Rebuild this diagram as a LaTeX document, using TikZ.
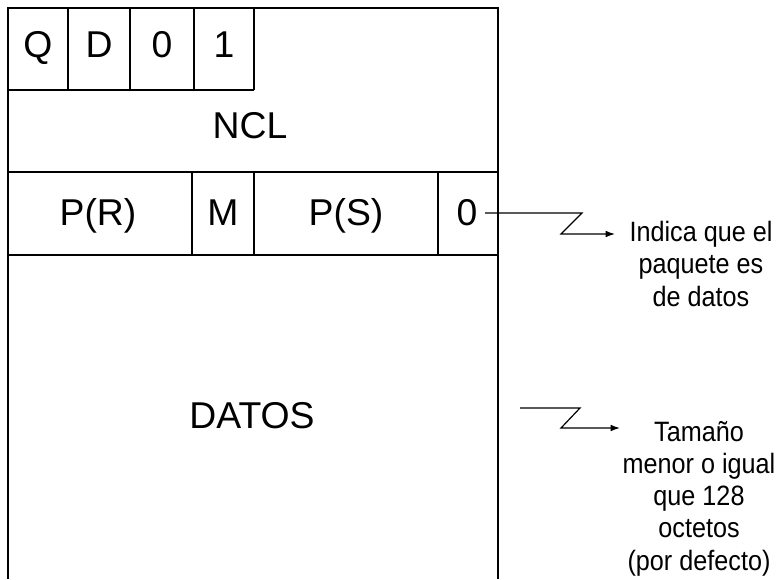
\documentclass[tikz,border=0pt]{standalone}
\usepackage{fontspec}
\setmainfont{Liberation Sans}
\newfontfamily\notafont[FakeStretch=0.9]{Liberation Sans}
\usetikzlibrary{arrows.meta}

\begin{document}
\begin{tikzpicture}[x=0.75pt,y=-0.75pt,line width=0.9pt,
  campo/.style={anchor=base,inner sep=0pt,font=\fontsize{28}{28}\selectfont},
  nota/.style={anchor=base,inner sep=0pt,font=\notafont\fontsize{21}{22}\selectfont},
  flecha/.style={-{Latex[length=7pt,width=5pt]}}]
\useasboundingbox (0,0) rectangle (780,579);
% marco del paquete
\draw (8,579) -- (8,8) -- (498,8) -- (498,579);
\draw (8,90) -- (254,90);
\draw (8,172) -- (498,172);
\draw (8,255) -- (498,255);
\foreach \x in {68,130,194,254} \draw (\x,8) -- (\x,90);
\foreach \x in {192,254,438} \draw (\x,172) -- (\x,255);
% campos
\node[campo] (q) at (38,57) {Q};
\node[campo] (d) at (99,57) {D};
\node[campo] (cero) at (162,57) {0};
\node[campo] (uno) at (224,57) {1};
\node[campo] (ncl) at (250,138) {NCL};
\node[campo] (pr) at (98,225) {P(R)};
\node[campo] (m) at (223,225) {M};
\node[campo] (ps) at (346,225) {P(S)};
\node[campo] (bit0) at (467,225) {0};
\node[campo] (datos) at (252,428) {DATOS};
% notas
\node[nota] (ind1) at (701,241) {Indica que el};
\node[nota] (ind2) at (701,273) {paquete es};
\node[nota] (ind3) at (701,306) {de datos};
\node[nota] (tam1) at (699,441) {Tamaño};
\node[nota] (tam2) at (699,473) {menor o igual};
\node[nota] (tam3) at (699,505) {que 128};
\node[nota] (tam4) at (699,537) {octetos};
\node[nota] (tam5) at (699,570) {(por defecto)};
% flechas
\coordinate (a1) at (485,213);
\coordinate (a2) at (520,408);
\draw[flecha] (a1) -- (582,213) -- (561,234) -- (615,234);
\draw[flecha] (a2) -- (580,408) -- (561,428) -- (620,428);
\end{tikzpicture}
\end{document}
